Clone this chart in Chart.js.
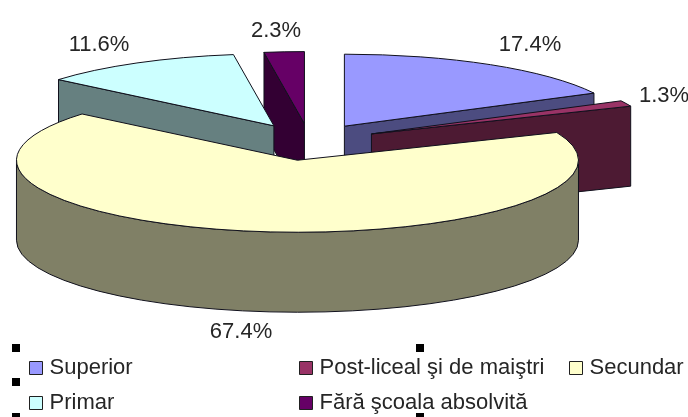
<!DOCTYPE html>
<html>
<head>
<meta charset="utf-8">
<title>Nivel de educatie</title>
<script src="https://cdn.jsdelivr.net/npm/chart.js@4/dist/chart.umd.min.js"></script>
<style>
  html, body { margin: 0; padding: 0; background: #fff; }
  canvas { display: block; }
</style>
</head>
<body>
<canvas id="chart" width="688" height="417"></canvas>
<script>
const categories = ["Superior", "Post-liceal şi de maiştri", "Secundar", "Primar", "Fără şcoala absolvită"];
const values = [17.4, 1.3, 67.4, 11.6, 2.3];
const topColors = ["#9999ff", "#993366", "#ffffcc", "#ccffff", "#660066"];
const sideColors = ["#4c4c80", "#4d1a33", "#808066", "#668080", "#330033"];

// back slices first, the big one goes on top of everything
const drawOrder = [4, 0, 3, 1, 2];

// the pie is flattened and extruded by hand, Chart.js only gives the arcs
const pie3d = {
    id: "pie3d",
    beforeDatasetDraw(chart, args, opts) {
        const ctx = chart.ctx;
        const arcs = args.meta.data;
        const k = opts.squash;
        const depth = opts.depth;

        ctx.lineWidth = 1;
        ctx.strokeStyle = "#10101c";
        ctx.lineJoin = "round";

        drawOrder.forEach(i => {
            const arc = arcs[i];
            const a1 = arc.startAngle;
            const a2 = arc.endAngle;
            const mid = (a1 + a2) / 2;
            const R = arc.outerRadius;
            const ex = Math.cos(mid) * opts.explode + opts.nudge[i][0];
            const ey = Math.sin(mid) * opts.explode;
            const x = arc.x + ex;
            const y = arc.y + ey * k + opts.nudge[i][1];

            // cut faces, only the ones looking at the viewer
            ctx.fillStyle = sideColors[i];
            const cut = a => {
                const rx = x + Math.cos(a) * R;
                const ry = y + Math.sin(a) * R * k;
                ctx.beginPath();
                ctx.moveTo(x, y);
                ctx.lineTo(rx, ry);
                ctx.lineTo(rx, ry + depth);
                ctx.lineTo(x, y + depth);
                ctx.closePath();
                ctx.fill();
                ctx.stroke();
            };
            if (-Math.cos(a1) > 0) cut(a1);
            if (Math.cos(a2) > 0) cut(a2);

            // outer wall, front half of the rim
            const lo = Math.max(a1, 0);
            const hi = Math.min(a2, Math.PI);
            if (lo < hi) {
                ctx.beginPath();
                ctx.ellipse(x, y, R, R * k, 0, lo, hi);
                ctx.ellipse(x, y + depth, R, R * k, 0, hi, lo, true);
                ctx.closePath();
                ctx.fill();
                ctx.stroke();
            }

            // top face is the library's own arc under a squashed transform
            ctx.save();
            ctx.translate(arc.x, y);
            ctx.scale(1, k);
            ctx.translate(-arc.x + ex, -y);
            arc.y0 = arc.y;
            arc.y = y;
            arc.draw(ctx);
            arc.y = arc.y0;
            ctx.restore();

            ctx.beginPath();
            ctx.moveTo(x, y);
            ctx.ellipse(x, y, R, R * k, 0, a1, a2);
            ctx.closePath();
            ctx.stroke();
        });
        return false;
    },
    afterDraw(chart, args, opts) {
        const ctx = chart.ctx;
        ctx.save();
        ctx.textBaseline = "alphabetic";
        ctx.font = opts.font;

        // percent labels
        ctx.fillStyle = "#262626";
        ctx.textAlign = "center";
        values.forEach((v, i) => {
            const p = opts.labelPos[i];
            ctx.fillText(v.toFixed(1) + "%", p[0], p[1]);
        });

        // legend
        ctx.textAlign = "left";
        ctx.lineWidth = 1;
        categories.forEach((name, i) => {
            const p = opts.legendPos[i];
            ctx.fillStyle = topColors[i];
            ctx.strokeStyle = "#202020";
            ctx.fillRect(p[0] + 0.5, p[1] + 0.5, 13, 13);
            ctx.strokeRect(p[0] + 0.5, p[1] + 0.5, 13, 13);
            ctx.fillStyle = "#262626";
            ctx.fillText(name, p[0] + 20.5, p[1] + 13);
        });

        // selection handles of the legend box
        ctx.fillStyle = "#000";
        opts.handles.forEach(h => ctx.fillRect(h[0], h[1], 8, 8));
        ctx.restore();
    }
};

new Chart(document.getElementById("chart"), {
    type: "pie",
    data: {
        labels: categories,
        datasets: [{
            data: values,
            backgroundColor: topColors,
            borderWidth: 0,
            radius: 281
        }]
    },
    options: {
        responsive: false,
        animation: false,
        layout: { padding: { left: 0, right: 72, top: 0, bottom: 134 } },
        plugins: {
            legend: { display: false },
            tooltip: { enabled: false },
            pie3d: {
                squash: 72 / 281,
                depth: 80,
                explode: 70,
                nudge: [[0, 0], [0, 0], [0, 1], [0, 0], [1.5, 0]],
                font: "22px 'Liberation Sans', Arial, sans-serif",
                labelPos: [[530, 51], [664, 102], [241, 338], [99, 51], [276, 37]],
                legendPos: [[29, 361], [299, 361], [569, 361], [29, 396], [299, 396]],
                handles: [[12, 344], [12, 378], [12, 413], [416, 344], [416, 413]]
            }
        }
    },
    plugins: [pie3d]
});
</script>
</body>
</html>
